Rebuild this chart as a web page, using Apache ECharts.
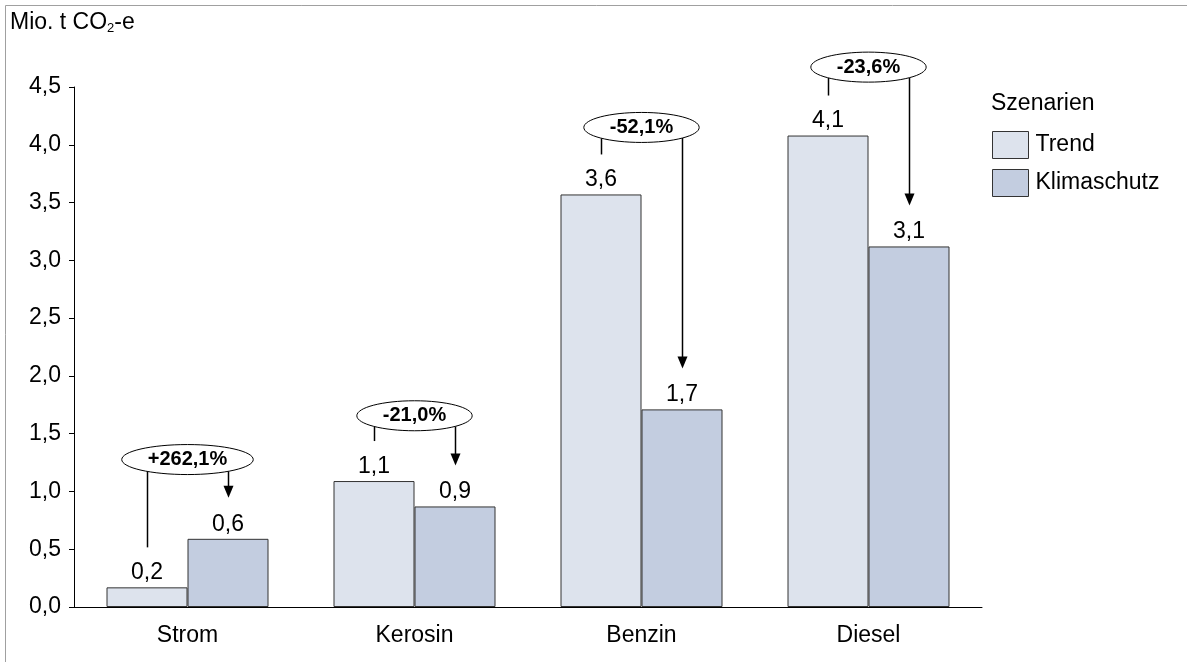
<!DOCTYPE html>
<html>
<head>
<meta charset="utf-8">
<script src="https://cdn.jsdelivr.net/npm/echarts@6/dist/echarts.min.js"></script>
<style>
  html, body { margin: 0; padding: 0; background: #fff; }
  #chart { width: 1187px; height: 662px; }
</style>
</head>
<body>
<div id="chart"></div>
<script>
// categories and values (Mio. t CO2-e)
const categories = ['Strom', 'Kerosin', 'Benzin', 'Diesel'];
const trendValues = [0.17, 1.09, 3.57, 4.08];
const klimaValues = [0.59, 0.87, 1.71, 3.12];
const valueLabels = [['0,2', '0,6'], ['1,1', '0,9'], ['3,6', '1,7'], ['4,1', '3,1']];
// change between scenarios, and the level (in axis units) of each bubble
const changeLabels = ['+262,1%', '-21,0%', '-52,1%', '-23,6%'];
const changeLevels = [1.276, 1.655, 4.15, 4.672];

const FONT = "'Liberation Sans', Arial, sans-serif";
const FS = 23;
const BAR_W = 81;

const chart = echarts.init(document.getElementById('chart'));

function barSeries(name, values, color, idx) {
    return {
        name: name,
        type: 'bar',
        data: values,
        barWidth: BAR_W,
        barGap: '0%',
        itemStyle: { color: color, borderColor: '#333', borderWidth: 1 },
        label: {
            show: true,
            position: 'top',
            distance: 3,
            color: '#000',
            fontSize: FS,
            fontFamily: FONT,
            formatter: p => valueLabels[p.dataIndex][idx]
        }
    };
}

const option = {
    animation: false,
    backgroundColor: '#fff',
    textStyle: { fontFamily: FONT },
    grid: { left: 74, right: 205, top: 87, bottom: 55 },
    legend: {
        orient: 'vertical',
        left: 992,
        top: 131,
        padding: 0,
        icon: 'rect',
        itemWidth: 36,
        itemHeight: 27,
        itemGap: 10,
        itemStyle: { borderColor: '#333', borderWidth: 1 },
        textStyle: { fontSize: FS, color: '#000', fontFamily: FONT, padding: [0, 0, 0, 2] },
        data: ['Trend', 'Klimaschutz']
    },
    xAxis: {
        type: 'category',
        data: categories,
        axisLine: { lineStyle: { color: '#000', width: 1 } },
        axisTick: { show: false },
        axisLabel: { color: '#000', fontSize: FS, fontFamily: FONT, margin: 17 }
    },
    yAxis: {
        type: 'value',
        min: 0,
        max: 4.5,
        interval: 0.5,
        splitLine: { show: false },
        axisLine: { show: true, lineStyle: { color: '#000', width: 1 } },
        axisTick: { show: true, length: 5, lineStyle: { color: '#000' } },
        axisLabel: {
            color: '#000',
            fontSize: FS,
            fontFamily: FONT,
            margin: 13,
            formatter: v => v.toFixed(1).replace('.', ',')
        }
    },
    series: [
        barSeries('Trend', trendValues, '#dde3ed', 0),
        barSeries('Klimaschutz', klimaValues, '#c3cde0', 1)
    ]
};

chart.setOption(option);

// measure text for bubble widths
const BOLD = 'bold 20px ' + FONT;
const ctx = document.createElement('canvas').getContext('2d');
ctx.font = BOLD;

function buildGraphics() {
    const els = [];
    const black = '#000';

    // outer frame
    els.push({
        type: 'rect',
        shape: { x: 5.5, y: 5.5, width: 1190, height: 670 },
        style: { fill: null, stroke: '#a0a0a0', lineWidth: 1 },
        silent: true
    });

    // axis title with subscript
    els.push({
        type: 'text',
        left: 10,
        top: 11,
        style: {
            text: '{a|Mio. t CO}{s|2}{a|-e}',
            rich: {
                a: { fontSize: FS, fontFamily: FONT, fill: '#000' },
                s: { fontSize: 13, fontFamily: FONT, fill: '#000', padding: [12, 0, 0, 0] }
            }
        }
    });

    // legend title
    els.push({
        type: 'text',
        left: 991,
        top: 92,
        style: { text: 'Szenarien', fontSize: FS, fontFamily: FONT, fill: '#000' }
    });

    categories.forEach((cat, i) => {
        const center = chart.convertToPixel({ xAxisIndex: 0, yAxisIndex: 0 }, [i, 0]);
        const trendTop = chart.convertToPixel({ xAxisIndex: 0, yAxisIndex: 0 }, [i, trendValues[i]])[1];
        const klimaTop = chart.convertToPixel({ xAxisIndex: 0, yAxisIndex: 0 }, [i, klimaValues[i]])[1];
        const cy = chart.convertToPixel({ xAxisIndex: 0, yAxisIndex: 0 }, [i, changeLevels[i]])[1];
        const cx = center[0];
        const xTrend = Math.round(cx - BAR_W / 2) + 0.5;
        const xKlima = Math.round(cx + BAR_W / 2) + 0.5;

        const rx = ctx.measureText(changeLabels[i]).width / 2 + 26;
        const ry = 15;

        // line down from bubble towards the Trend bar
        const yLeft = cy + ry * Math.sqrt(Math.max(0, 1 - Math.pow((xTrend - cx) / rx, 2)));
        els.push({
            type: 'line',
            shape: { x1: xTrend, y1: yLeft, x2: xTrend, y2: trendTop - 40 },
            style: { stroke: black, lineWidth: 1.5 }
        });

        // arrow from bubble to the Klimaschutz bar
        const yRight = cy + ry * Math.sqrt(Math.max(0, 1 - Math.pow((xKlima - cx) / rx, 2)));
        const tip = klimaTop - 41;
        els.push({
            type: 'line',
            shape: { x1: xKlima, y1: yRight, x2: xKlima, y2: tip - 10 },
            style: { stroke: black, lineWidth: 1.5 }
        });
        els.push({
            type: 'polygon',
            shape: { points: [[xKlima - 5, tip - 12], [xKlima + 5, tip - 12], [xKlima, tip]] },
            style: { fill: black }
        });

        // bubble with the percentage change
        els.push({
            type: 'ellipse',
            shape: { cx: cx, cy: cy, rx: rx, ry: ry },
            style: { fill: '#fff', stroke: black, lineWidth: 1 }
        });
        els.push({
            type: 'text',
            x: cx,
            y: cy,
            style: {
                text: changeLabels[i],
                font: BOLD,
                fill: black,
                align: 'center',
                verticalAlign: 'middle'
            }
        });
    });
    return els;
}

chart.setOption({ graphic: buildGraphics() });
</script>
</body>
</html>
